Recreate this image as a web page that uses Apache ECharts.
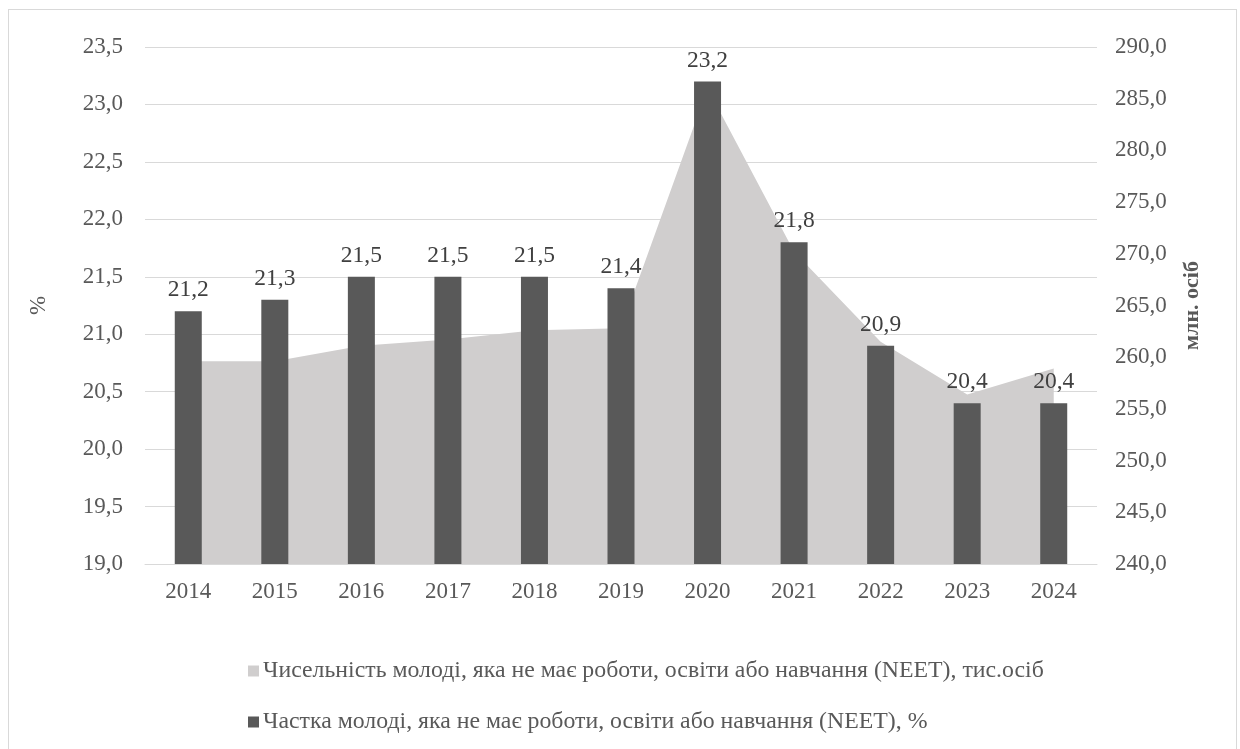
<!DOCTYPE html>
<html>
<head>
<meta charset="utf-8">
<script src="https://cdn.jsdelivr.net/npm/echarts@6/dist/echarts.min.js"></script>
<style>
  html, body { margin: 0; padding: 0; background: #fff; }
  #frame { position: absolute; left: 8px; top: 9px; width: 1229px; height: 760px; border: 1px solid #d9d9d9; box-sizing: border-box; }
  #chart { width: 1240px; height: 749px; position: absolute; left: 0; top: 0; }
</style>
</head>
<body>
<div id="frame"></div>
<div id="chart"></div>
<script>
// Years on the category axis
const years = ['2014', '2015', '2016', '2017', '2018', '2019', '2020', '2021', '2022', '2023', '2024'];
// NEET share, % (left axis, bars)
const neetShare = [21.2, 21.3, 21.5, 21.5, 21.5, 21.4, 23.2, 21.8, 20.9, 20.4, 20.4];
// NEET headcount (right axis, area)
const neetCount = [259.6, 259.6, 261.1, 261.7, 262.6, 262.8, 286.0, 270.2, 261.5, 256.4, 258.9];

const shareName = 'Частка молоді, яка не має роботи, освіти або навчання (NEET), %';
const countName = 'Чисельність молоді, яка не має роботи, освіти або навчання (NEET), тис.осіб';

const FONT = '"Liberation Serif", "DejaVu Serif", serif';
const comma = (v, d) => v.toFixed(d).replace('.', ',');

const chart = echarts.init(document.getElementById('chart'), null, { renderer: 'canvas' });
chart.setOption({
  animation: false,
  backgroundColor: 'transparent',
  textStyle: { fontFamily: FONT },
  grid: { left: 145, right: 143, top: 47, bottom: 185, containLabel: false },
  legend: {
    orient: 'vertical',
    left: 243,
    top: 653,
    itemWidth: 11,
    itemHeight: 11,
    itemGap: 25,
    icon: 'rect',
    textStyle: { fontFamily: FONT, fontSize: 23.8, color: '#595959', lineHeight: 26, padding: [0, 0, 0, -1] },
    data: [countName, shareName]
  },
  xAxis: {
    type: 'category',
    data: years,
    boundaryGap: true,
    axisLine: { show: true, lineStyle: { color: '#d9d9d9', width: 1 } },
    axisTick: { show: false },
    axisLabel: { fontFamily: FONT, fontSize: 23, color: '#595959', margin: 16 }
  },
  yAxis: [
    {
      type: 'value',
      min: 19, max: 23.5, interval: 0.5,
      name: '%',
      nameLocation: 'middle',
      nameRotate: 90,
      nameGap: 95,
      nameTextStyle: { fontFamily: FONT, fontSize: 23, color: '#595959' },
      axisLine: { show: false },
      axisTick: { show: false },
      splitLine: { lineStyle: { color: '#d9d9d9', width: 1 } },
      axisLabel: { fontFamily: FONT, fontSize: 23, color: '#595959', margin: 22, formatter: v => comma(v, 1) }
    },
    {
      type: 'value',
      min: 240, max: 290, interval: 5,
      name: 'млн. осіб',
      nameLocation: 'middle',
      nameRotate: 90,
      nameGap: 84,
      nameTextStyle: { fontFamily: FONT, fontSize: 22, fontWeight: 'bold', color: '#595959' },
      axisLine: { show: false },
      axisTick: { show: false },
      splitLine: { show: false },
      axisLabel: { fontFamily: FONT, fontSize: 23, color: '#595959', margin: 18, formatter: v => comma(v, 1) }
    }
  ],
  series: [
    {
      name: countName,
      type: 'line',
      yAxisIndex: 1,
      data: neetCount,
      symbol: 'none',
      lineStyle: { width: 0 },
      itemStyle: { color: '#d0cece' },
      areaStyle: { color: '#d0cece', opacity: 1, origin: 'start' },
      z: 1
    },
    {
      name: shareName,
      type: 'bar',
      yAxisIndex: 0,
      data: neetShare,
      barWidth: 27,
      itemStyle: { color: '#595959' },
      label: {
        show: true,
        position: 'top',
        distance: 9,
        fontFamily: FONT,
        fontSize: 23.5,
        color: '#404040',
        formatter: p => comma(p.value, 1)
      },
      z: 3
    }
  ]
});
</script>
</body>
</html>
